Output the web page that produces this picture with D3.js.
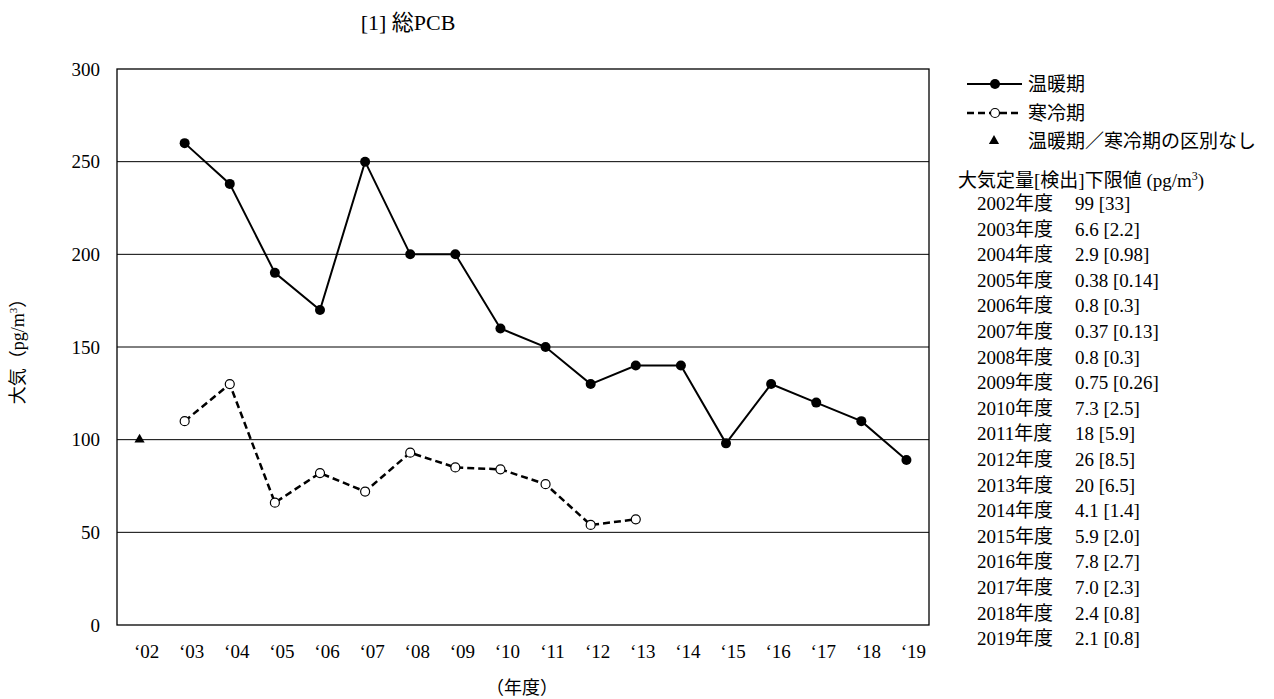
<!DOCTYPE html>
<html>
<head>
<meta charset="utf-8">
<script src="https://cdn.jsdelivr.net/npm/d3@7"></script>
<style>
  body { margin: 0; background: #fff; }
  svg { font-family: "Liberation Serif", "Noto Sans CJK JP", serif; }
</style>
</head>
<body>
<div id="chart"></div>
<script>
// data
var years = ["‘02","‘03","‘04","‘05","‘06","‘07","‘08","‘09","‘10","‘11","‘12","‘13","‘14","‘15","‘16","‘17","‘18","‘19"];
var warm = [null,260,238,190,170,250,200,200,160,150,130,140,140,98,130,120,110,89];
var cold = [null,110,130,66,82,72,93,85,84,76,54,57,null,null,null,null,null,null];
var nodiv = [100,null,null,null,null,null,null,null,null,null,null,null,null,null,null,null,null,null];
var yTicks = [0,50,100,150,200,250,300];
var limitYears = ["2002","2003","2004","2005","2006","2007","2008","2009","2010","2011","2012","2013","2014","2015","2016","2017","2018","2019"];
var limitVals = ["99 [33]","6.6 [2.2]","2.9 [0.98]","0.38 [0.14]","0.8 [0.3]","0.37 [0.13]","0.8 [0.3]","0.75 [0.26]","7.3 [2.5]","18 [5.9]","26 [8.5]","20 [6.5]","4.1 [1.4]","5.9 [2.0]","7.8 [2.7]","7.0 [2.3]","2.4 [0.8]","2.1 [0.8]"];

var W = 1274, H = 699;
var pL = 117, pR = 929, pT = 69, pB = 625;
var fs = 19;

var svg = d3.select("#chart").append("svg")
    .attr("width", W).attr("height", H);

var x = d3.scaleBand().domain(years).range([pL, pR]);
var y = d3.scaleLinear().domain([0, 300]).range([pB, pT]);
function cx(i) { return x(years[i]) + x.bandwidth() / 2; }

// gridlines
svg.append("g").selectAll("line").data(yTicks.slice(1, -1)).enter().append("line")
    .attr("x1", pL).attr("x2", pR)
    .attr("y1", function(d) { return y(d); }).attr("y2", function(d) { return y(d); })
    .attr("stroke", "#000").attr("stroke-width", 1);

// frame
svg.append("rect")
    .attr("x", pL).attr("y", pT)
    .attr("width", pR - pL).attr("height", pB - pT)
    .attr("fill", "none").attr("stroke", "#000").attr("stroke-width", 1.3);

// y axis labels
var yAxis = d3.axisLeft(y).tickValues(yTicks).tickSize(0).tickPadding(17);
var ya = svg.append("g").attr("transform", "translate(" + pL + ",0)").call(yAxis);
ya.select(".domain").remove();
ya.selectAll("text").attr("font-size", fs).attr("font-family", "Liberation Serif").attr("fill", "#000");

// x axis labels
var xAxis = d3.axisBottom(x).tickSize(0);
var xa = svg.append("g").attr("transform", "translate(0," + pB + ")").call(xAxis);
xa.select(".domain").remove();
xa.selectAll("text").attr("font-size", fs).attr("font-family", "Liberation Serif").attr("fill", "#000")
    .attr("y", 33).attr("dy", 0).attr("dx", 7);

// lines
var line = d3.line()
    .defined(function(d) { return d != null; })
    .x(function(d, i) { return cx(i); })
    .y(function(d) { return y(d); });

svg.append("path").datum(warm).attr("d", line)
    .attr("fill", "none").attr("stroke", "#000").attr("stroke-width", 2);
svg.append("path").datum(cold).attr("d", line)
    .attr("fill", "none").attr("stroke", "#000").attr("stroke-width", 2.5)
    .attr("stroke-dasharray", "7,4");

svg.append("g").selectAll("circle")
    .data(warm.map(function(v, i) { return {v: v, i: i}; }).filter(function(d) { return d.v != null; }))
    .enter().append("circle")
    .attr("cx", function(d) { return cx(d.i); }).attr("cy", function(d) { return y(d.v); })
    .attr("r", 5).attr("fill", "#000");

svg.append("g").selectAll("circle")
    .data(cold.map(function(v, i) { return {v: v, i: i}; }).filter(function(d) { return d.v != null; }))
    .enter().append("circle")
    .attr("cx", function(d) { return cx(d.i); }).attr("cy", function(d) { return y(d.v); })
    .attr("r", 4.5).attr("fill", "#fff").attr("stroke", "#000").attr("stroke-width", 1.2);

var tri = d3.symbol().type(d3.symbolTriangle).size(45);
svg.append("g").selectAll("path")
    .data(nodiv.map(function(v, i) { return {v: v, i: i}; }).filter(function(d) { return d.v != null; }))
    .enter().append("path")
    .attr("d", tri)
    .attr("transform", function(d) { return "translate(" + cx(d.i) + "," + y(d.v) + ")"; })
    .attr("fill", "#000");

// title & axis titles
svg.append("text").attr("x", 408).attr("y", 30).attr("text-anchor", "middle")
    .attr("font-size", 22).text("[1] 総PCB");

svg.append("text").attr("x", 522).attr("y", 694).attr("text-anchor", "middle")
    .attr("font-size", 18).text("（年度）");

var yl = svg.append("text").attr("transform", "translate(24,347) rotate(-90)")
    .attr("text-anchor", "middle").attr("font-size", 18);
yl.append("tspan").text("大気（pg/m");
yl.append("tspan").attr("font-size", 11).attr("dy", -7).text("3");
yl.append("tspan").attr("dy", 7).text("）");

// legend
var lg = svg.append("g").attr("font-size", fs);
lg.append("line").attr("x1", 967).attr("x2", 1022).attr("y1", 84).attr("y2", 84)
    .attr("stroke", "#000").attr("stroke-width", 2);
lg.append("circle").attr("cx", 995).attr("cy", 84).attr("r", 5).attr("fill", "#000");
lg.append("text").attr("x", 1028).attr("y", 91).text("温暖期");

lg.append("line").attr("x1", 967).attr("x2", 1022).attr("y1", 113).attr("y2", 113)
    .attr("stroke", "#000").attr("stroke-width", 2.5).attr("stroke-dasharray", "7,4");
lg.append("circle").attr("cx", 995).attr("cy", 113).attr("r", 4.5)
    .attr("fill", "#fff").attr("stroke", "#000").attr("stroke-width", 1.2);
lg.append("text").attr("x", 1028).attr("y", 120).text("寒冷期");

lg.append("path").attr("d", tri).attr("transform", "translate(994,141)").attr("fill", "#000");
lg.append("text").attr("x", 1028).attr("y", 148).text("温暖期／寒冷期の区別なし");

var hd = lg.append("text").attr("x", 958).attr("y", 187);
hd.append("tspan").text("大気定量[検出]下限値 (pg/m");
hd.append("tspan").attr("font-size", 12).attr("dy", -7).text("3");
hd.append("tspan").attr("dy", 7).text(")");

var rows = lg.append("g").selectAll("g").data(limitYears).enter().append("g")
    .attr("transform", function(d, i) { return "translate(0," + (210 + i * 25.6) + ")"; });
rows.append("text").attr("x", 977).text(function(d) { return d + "年度"; });
rows.append("text").attr("x", 1075).text(function(d, i) { return limitVals[i]; });
</script>
</body>
</html>
